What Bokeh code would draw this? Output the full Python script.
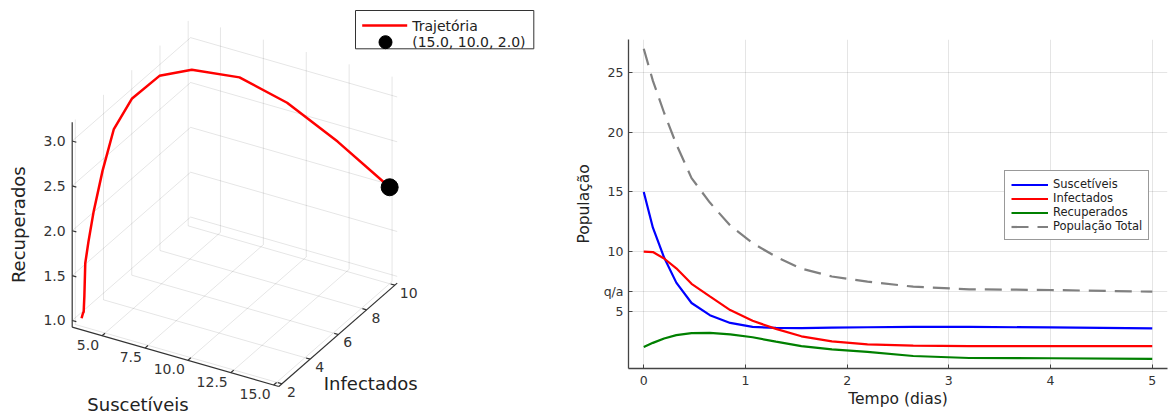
import numpy as np
from bokeh.plotting import figure
from bokeh.models import Range1d, FixedTicker, ColumnDataSource
from bokeh.layouts import row
from bokeh.embed import file_html
from bokeh.resources import INLINE
from bokeh.core.properties import value

# ---------------- data ----------------
tempo = [0.0, 0.09, 0.2, 0.32, 0.47, 0.65, 0.85, 1.07, 1.3, 1.55, 1.85, 2.2, 2.65, 3.2, 4.0, 5.0]
suscetiveis = [15.0, 12.0, 9.5, 7.4, 5.69, 4.67, 4.02, 3.69, 3.6, 3.59, 3.63, 3.66, 3.69, 3.69, 3.64, 3.56]
infectados = [10.0, 9.96, 9.42, 8.6, 7.3, 6.25, 5.1, 4.2, 3.52, 2.9, 2.48, 2.22, 2.12, 2.07, 2.08, 2.08]
recuperados = [2.0, 2.35, 2.72, 3.0, 3.17, 3.19, 3.06, 2.82, 2.45, 2.08, 1.8, 1.6, 1.25, 1.08, 1.06, 1.0]
populacao_total = [27.0, 24.31, 21.64, 19.0, 16.16, 14.11, 12.18, 10.71, 9.57, 8.57, 7.91, 7.48, 7.06, 6.84, 6.78, 6.64]

x_ticks = [0, 1, 2, 3, 4, 5]
y_ticks_main = [5, 10, 15, 20, 25]
qa_label = "q/a"

s_ticks = [5.0, 7.5, 10.0, 12.5, 15.0]
i_ticks = [2, 4, 6, 8, 10]
r_ticks = [1.0, 1.5, 2.0, 2.5, 3.0]

FONT = value("DejaVu Sans")
TOP, BOTTOM = 39, 48          # shared vertical borders (row aligns plot frames)
H = 416

# ---------------- left panel: 3D trajectory (orthographic projection) ----------------
S_LIM = (3.26, 15.30)
I_LIM = (1.78, 10.17)
R_LIM = (0.925, 3.21)
ORIGIN = (71.7, 326.7)
U_S = (206.6, 59.3)
U_I = (118.4, -103.4)
U_R = (0.0, -205.0)


def proj(s, i, r):
    s = np.asarray(s, dtype=float)
    i = np.asarray(i, dtype=float)
    r = np.asarray(r, dtype=float)
    a = (s - S_LIM[0]) / (S_LIM[1] - S_LIM[0])
    b = (i - I_LIM[0]) / (I_LIM[1] - I_LIM[0])
    c = (r - R_LIM[0]) / (R_LIM[1] - R_LIM[0])
    x = ORIGIN[0] + a * U_S[0] + b * U_I[0] + c * U_R[0]
    y = ORIGIN[1] + a * U_S[1] + b * U_I[1] + c * U_R[1]
    return x, y


def seg(p0, p1):
    x0, y0 = proj(*p0)
    x1, y1 = proj(*p1)
    return [float(x0), float(x1)], [float(y0), float(y1)]


p1 = figure(width=560, height=H, x_range=Range1d(0, 560), y_range=Range1d(H - BOTTOM, TOP),
            output_backend="svg", toolbar_location=None,
            min_border_left=0, min_border_right=0, min_border_top=TOP, min_border_bottom=BOTTOM)
p1.axis.visible = False
p1.grid.visible = False
p1.outline_line_color = None
p1.background_fill_color = "white"
p1.border_fill_color = "white"
p1.title.visible = False

S0, S1 = S_LIM
I0, I1 = I_LIM
R0, R1 = R_LIM
LV = "overlay"   # draw without clipping to the frame

gx, gy = [], []
for s in s_ticks:
    for a, b in [((s, I0, R0), (s, I1, R0)), ((s, I1, R0), (s, I1, R1))]:
        xx, yy = seg(a, b); gx.append(xx); gy.append(yy)
for i in i_ticks:
    for a, b in [((S0, i, R0), (S1, i, R0)), ((S0, i, R0), (S0, i, R1))]:
        xx, yy = seg(a, b); gx.append(xx); gy.append(yy)
for r in r_ticks:
    for a, b in [((S0, I0, r), (S0, I1, r)), ((S0, I1, r), (S1, I1, r))]:
        xx, yy = seg(a, b); gx.append(xx); gy.append(yy)
p1.multi_line(gx, gy, line_color="black", line_alpha=0.1, line_width=1, level=LV)

# axes
ax, ay = [], []
for a, b in [((S0, I0, R0), (S1, I0, R0)), ((S1, I0, R0), (S1, I1, R0)), ((S0, I0, R0), (S0, I0, R1))]:
    xx, yy = seg(a, b); ax.append(xx); ay.append(yy)
# tick marks
for s in s_ticks:
    xx, yy = seg((s, I0, R0), (s, I0 + 0.025 * (I1 - I0), R0)); ax.append(xx); ay.append(yy)
for i in i_ticks:
    xx, yy = seg((S1, i, R0), (S1 - 0.02 * (S1 - S0), i, R0)); ax.append(xx); ay.append(yy)
for r in r_ticks:
    xx, yy = seg((S0, I0, r), (S0 + 0.02 * (S1 - S0), I0, r)); ax.append(xx); ay.append(yy)
p1.multi_line(ax, ay, line_color="#333333", line_width=1.2, level=LV)

# tick labels
sx, sy = proj(s_ticks, [I0] * len(s_ticks), [R0] * len(s_ticks))
p1.text(x=list(sx - 3), y=list(sy + 9), text=[f"{v:.1f}" for v in s_ticks], text_font=FONT,
        text_font_size="14px", text_align="right", text_baseline="middle", text_color="#333333", level=LV)
ix, iy = proj([S1] * len(i_ticks), i_ticks, [R0] * len(i_ticks))
p1.text(x=list(ix + 5), y=list(iy + 8), text=[str(v) for v in i_ticks], text_font=FONT,
        text_font_size="14px", text_align="left", text_baseline="middle", text_color="#333333", level=LV)
rx, ry = proj([S0] * len(r_ticks), [I0] * len(r_ticks), r_ticks)
p1.text(x=list(rx - 6.5), y=list(ry), text=[f"{v:.1f}" for v in r_ticks], text_font=FONT,
        text_font_size="14px", text_align="right", text_baseline="middle", text_color="#333333", level=LV)

# axis labels
mx, my = proj((S0 + S1) / 2, I0, R0)
p1.text(x=[float(mx) - 37.5], y=[float(my) + 47.6], text=["Suscetíveis"], text_font=FONT,
        text_font_size="18px", text_align="center", text_baseline="middle", text_color="#222222", level=LV)
mx, my = proj(S1, (I0 + I1) / 2, R0)
p1.text(x=[float(mx) - 14.2], y=[float(my) + 48.7], text=["Infectados"], text_font=FONT,
        text_font_size="18px", text_align="left", text_baseline="middle", text_color="#222222", level=LV)
mx, my = proj(S0, I0, (R0 + R1) / 2)
p1.text(x=[float(mx) - 53.4], y=[float(my)], text=["Recuperados"], text_font=FONT, angle=np.pi / 2,
        text_font_size="18px", text_align="center", text_baseline="middle", text_color="#222222", level=LV)

# trajectory and starting point
tx, ty = proj(suscetiveis, infectados, recuperados)
p1.line(list(tx), list(ty), line_color="#ff0000", line_width=2.5, level=LV)
p1.scatter([float(tx[0])], [float(ty[0])], size=17, fill_color="black", line_color="black", level=LV)

# legend (left panel)
p1.quad(left=[355], right=[533.3], top=[10], bottom=[48.3], fill_color="white",
        line_color="#333333", line_width=1, level=LV)
p1.line([361.7, 406.7], [25, 25], line_color="#ff0000", line_width=2.5, level=LV)
p1.scatter([385], [41.7], size=13, fill_color="black", line_color="black", level=LV)
start_label = f"({suscetiveis[0]:.1f}, {infectados[0]:.1f}, {recuperados[0]:.1f})"
p1.text(x=[411.7, 411.7], y=[25, 41.7], text=["Trajetória", start_label], text_font=FONT,
        text_font_size="14px", text_align="left", text_baseline="middle", text_color="#222222", level=LV)

# ---------------- right panel: time series ----------------
qa = populacao_total[-1]
p2 = figure(width=608, height=H, x_range=Range1d(-0.15, 5.15), y_range=Range1d(0.2, 27.78),
            output_backend="svg", toolbar_location=None,
            min_border_left=68, min_border_right=1, min_border_top=TOP, min_border_bottom=BOTTOM,
            x_axis_label="Tempo (dias)", y_axis_label="População")
p2.outline_line_color = None
p2.background_fill_color = "white"
p2.border_fill_color = "white"
p2.title.visible = False

src = ColumnDataSource(dict(t=tempo, s=suscetiveis, i=infectados, r=recuperados, tot=populacao_total))
p2.line("t", "s", source=src, line_color="#0000ff", line_width=2.2, legend_label="Suscetíveis")
p2.line("t", "i", source=src, line_color="#ff0000", line_width=2.2, legend_label="Infectados")
p2.line("t", "r", source=src, line_color="#008000", line_width=2.2, legend_label="Recuperados")
p2.line("t", "tot", source=src, line_color="#808080", line_width=2.2, line_dash="17 9",
        legend_label="População Total")

p2.xaxis.ticker = FixedTicker(ticks=x_ticks)
yt = sorted(y_ticks_main + [qa])
p2.yaxis.ticker = FixedTicker(ticks=yt)
p2.yaxis.major_label_overrides = {qa: qa_label}

for axis in (p2.xaxis, p2.yaxis):
    axis.axis_line_color = "#444444"
    axis.axis_line_width = 1.3
    axis.major_tick_line_color = "#444444"
    axis.major_tick_in = 4
    axis.major_tick_out = 0
    axis.minor_tick_line_color = None
    axis.major_label_text_font = "DejaVu Sans"
    axis.major_label_text_font_size = "12.5px"
    axis.major_label_text_color = "#333333"
    axis.axis_label_text_font = "DejaVu Sans"
    axis.axis_label_text_font_size = "15.5px"
    axis.axis_label_text_font_style = "normal"
    axis.axis_label_text_color = "#222222"
p2.xaxis.major_label_standoff = 7
p2.xaxis.axis_label_standoff = 2
p2.yaxis.major_label_standoff = 5
p2.yaxis.axis_label_standoff = 8

for g in (p2.xgrid, p2.ygrid):
    g.grid_line_color = "black"
    g.grid_line_alpha = 0.1
    g.grid_line_width = 1

lg = p2.legend[0]
lg.location = (376, 128)
lg.border_line_color = "#333333"
lg.border_line_width = 1
lg.background_fill_color = "white"
lg.background_fill_alpha = 1
lg.label_text_font = "DejaVu Sans"
lg.label_text_font_size = "11.5px"
lg.label_text_color = "#222222"
lg.glyph_width = 37
lg.glyph_height = 13
lg.label_height = 13
lg.spacing = 0
lg.padding = 6
lg.margin = 0
lg.label_standoff = 5

layout = row(p1, p2)
open("out.html", "w").write(file_html(layout, INLINE))
